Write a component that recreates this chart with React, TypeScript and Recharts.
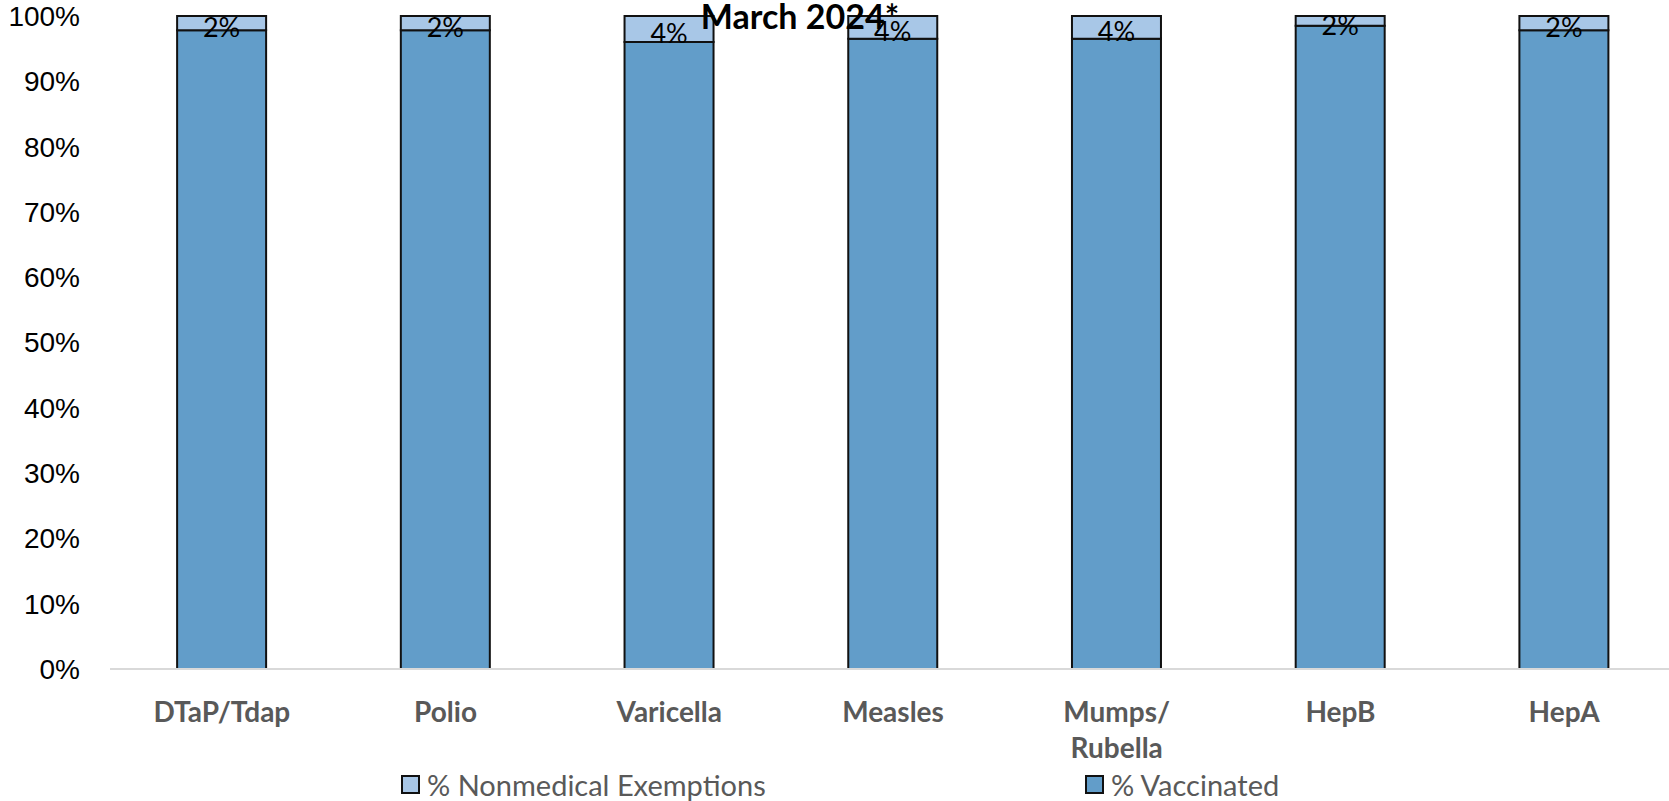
import { BarChart, Bar, XAxis, YAxis, LabelList } from 'recharts';

const categories = ['DTaP/Tdap', 'Polio', 'Varicella', 'Measles', 'Mumps/\nRubella', 'HepB', 'HepA'];
const vaccinated = [97.8, 97.8, 96.0, 96.5, 96.5, 98.5, 97.8];
const exemptions = [2.2, 2.2, 4.0, 3.5, 3.5, 1.5, 2.2];
const exemptionLabels = ['2%', '2%', '4%', '4%', '4%', '2%', '2%'];
const yTicks = [0, 10, 20, 30, 40, 50, 60, 70, 80, 90, 100];

const data = categories.map((name, i) => ({
    name,
    vaccinated: vaccinated[i],
    exemptions: exemptions[i],
    label: exemptionLabels[i],
}));

const COLOR_VACC = '#629dc9';
const COLOR_EXEMPT = '#a8c7e7';
const CALIBRI = 'Lato, "Open Sans", sans-serif';

const XTick = ({ x, y, payload }: any) => {
    const lines = String(payload.value).split('\n');
    return (
        <text x={x} y={y} textAnchor="middle" fill="#595959"
            style={{ fontFamily: CALIBRI, fontWeight: 700, fontSize: 28 }}>
            {lines.map((line, i) => (
                <tspan key={i} x={x} dy={i === 0 ? 53 : 36}>{line}</tspan>
            ))}
        </text>
    );
};

const SegmentLabel = ({ x, y, width, height, index }: any) => (
    <text x={x + width / 2} y={y + height / 2 + 3.5} textAnchor="middle" dominantBaseline="central"
        fill="#000" style={{ fontFamily: CALIBRI, fontSize: 27 }}>
        {exemptionLabels[index]}
    </text>
);

const LegendItem = ({ color, text, left }: { color: string; text: string; left: number }) => (
    <div style={{ position: 'absolute', left, top: 764, display: 'flex', alignItems: 'center', height: 40 }}>
        <div style={{ width: 15, height: 15, background: color, border: '2px solid #111', marginRight: 7 }} />
        <span style={{ fontFamily: CALIBRI, fontSize: 29, color: '#595959', whiteSpace: 'nowrap' }}>{text}</span>
    </div>
);

export default function App() {
    return (
        <div style={{ position: 'absolute', left: 0, top: 0, width: 1669, height: 801, background: '#fff', overflow: 'hidden' }}>
            <BarChart
                width={1676}
                height={801}
                data={data}
                margin={{ top: 16, right: 0, bottom: 0, left: 0 }}
                barCategoryGap="30%"
            >
                <XAxis dataKey="name" tick={<XTick />} tickLine={false} interval={0} tickSize={0} tickMargin={0}
                    axisLine={{ stroke: '#d9d9d9', strokeWidth: 2 }} height={132} />
                <YAxis domain={[0, 100]} ticks={yTicks} width={110}
                    axisLine={false} tickLine={false} tickSize={0} tickMargin={30}
                    tickFormatter={(v: number) => `${v}%`}
                    tick={{ fill: '#000', fontSize: 28, fontFamily: '"Liberation Sans", Arial, sans-serif' }} />
                <Bar dataKey="vaccinated" stackId="a" fill={COLOR_VACC} stroke="#111" strokeWidth={2}
                    isAnimationActive={false} />
                <Bar dataKey="exemptions" stackId="a" fill={COLOR_EXEMPT} stroke="#111" strokeWidth={2}
                    isAnimationActive={false}>
                    <LabelList dataKey="label" content={<SegmentLabel />} />
                </Bar>
            </BarChart>
            <svg width={1669} height={60} style={{ position: 'absolute', left: 0, top: 0, pointerEvents: 'none' }}>
                <text x={800} y={29} textAnchor="middle" fill="#000"
                    style={{ fontFamily: CALIBRI, fontWeight: 700, fontSize: 34 }}>
                    March 2024*
                </text>
            </svg>
            <LegendItem color={COLOR_EXEMPT} text="% Nonmedical Exemptions" left={401} />
            <LegendItem color={COLOR_VACC} text="% Vaccinated" left={1085} />
        </div>
    );
}
